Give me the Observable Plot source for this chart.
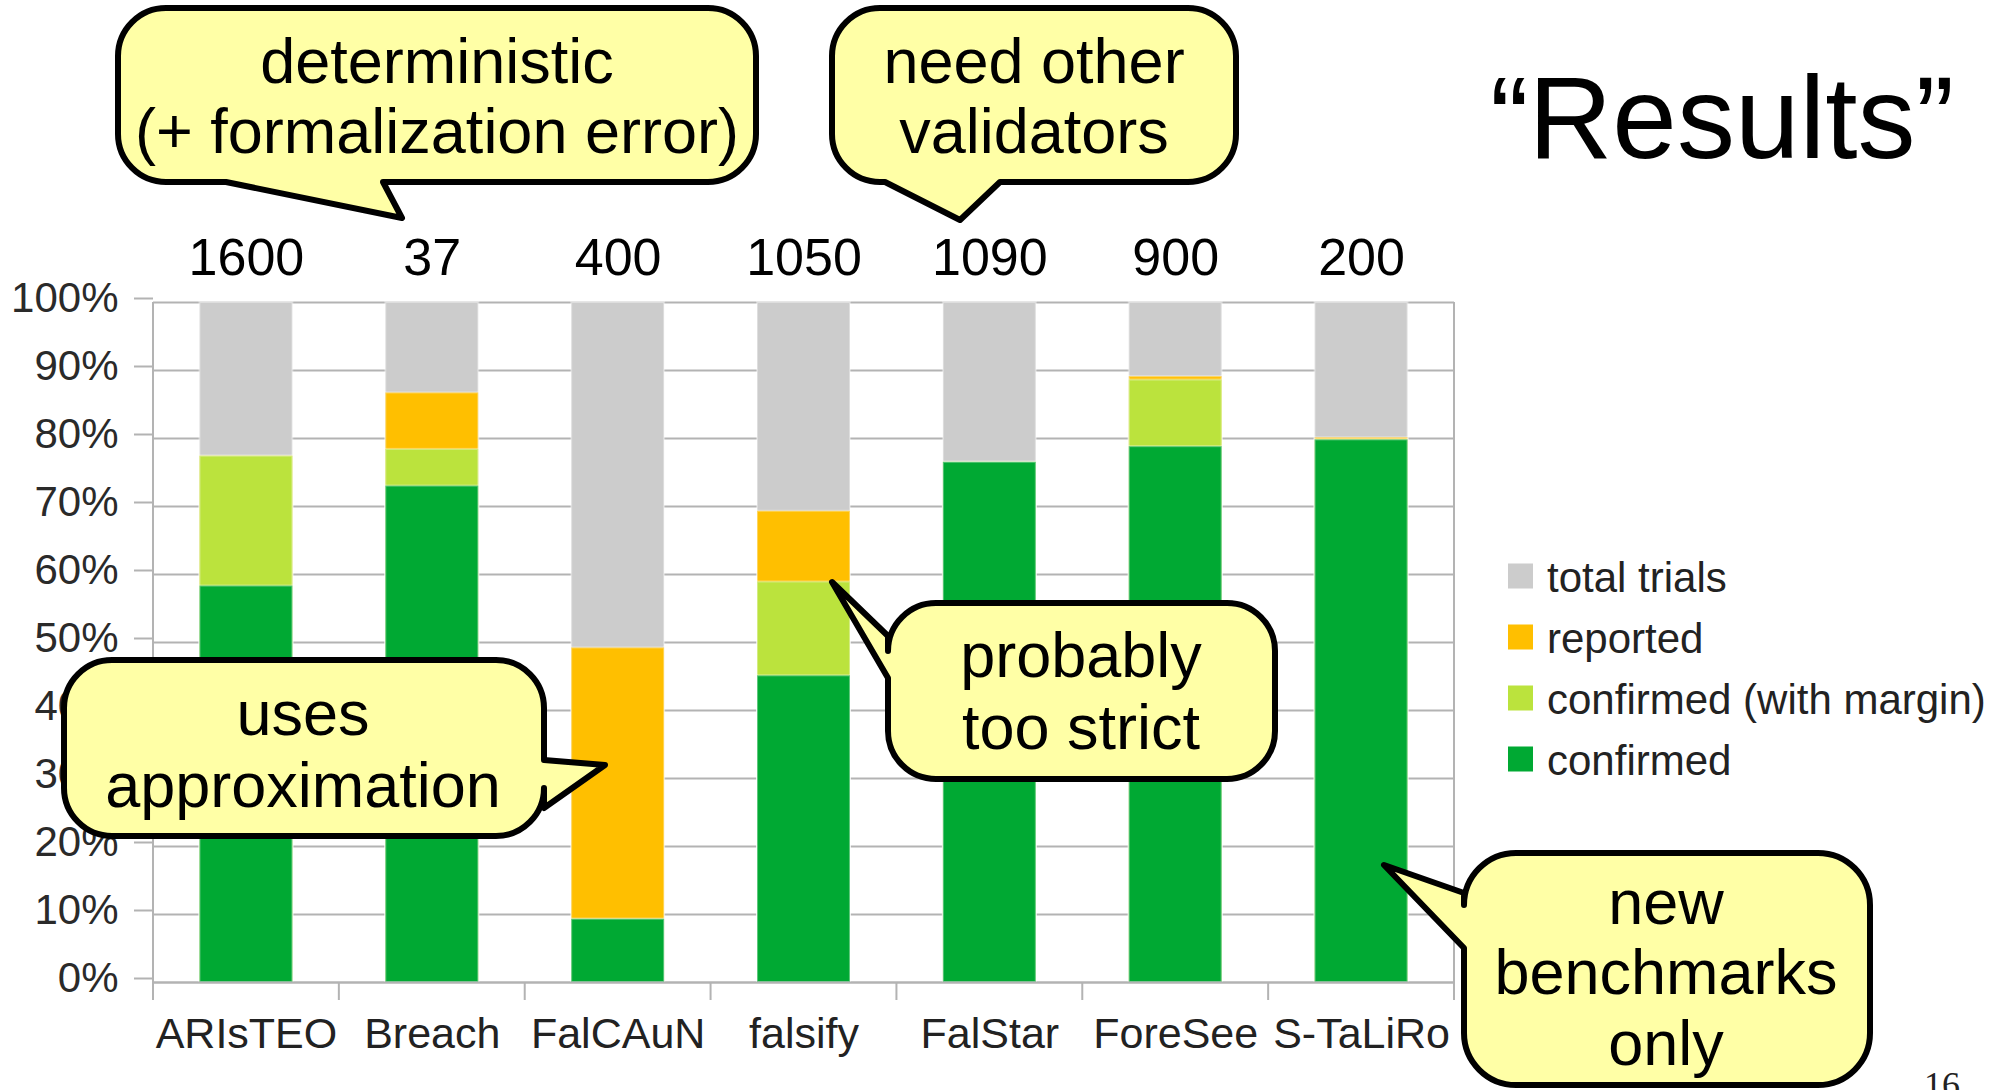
<!DOCTYPE html>
<html><head><meta charset="utf-8">
<script src="https://cdn.jsdelivr.net/npm/d3@7"></script>
<script src="https://cdn.jsdelivr.net/npm/@observablehq/plot@0.6"></script>
<style>
html,body{margin:0;padding:0;background:#fff;overflow:hidden;}
#wrap{position:relative;width:2012px;height:1090px;}
#wrap > svg{position:absolute;left:0;top:0;}
</style></head>
<body><div id="wrap"></div>
<script>
// ---- data ----
const tools = ["ARIsTEO", "Breach", "FalCAuN", "falsify", "FalStar", "ForeSee", "S-TaLiRo"];
const trials = [1600, 37, 400, 1050, 1090, 900, 200];
const seriesNames = ["total trials", "reported", "confirmed (with margin)", "confirmed"];
const totalPct     = [100, 100, 100, 100, 100, 100, 100];
const reportedPct  = [77.4, 86.7, 49.2, 69.3, 76.5, 89.1, 80.1];
const marginPct    = [77.4, 78.4, 9.3, 58.9, 76.5, 88.6, 79.8];
const confirmedPct = [58.3, 73.0, 9.3, 45.1, 76.5, 78.8, 79.8];
const yTicks = [0, 10, 20, 30, 40, 50, 60, 70, 80, 90, 100];
const title = "\u201CResults\u201D";
const pageNumber = "16";
const notes = [
  ["deterministic", "(+ formalization error)"],
  ["need other", "validators"],
  ["uses", "approximation"],
  ["probably", "too strict"],
  ["new", "benchmarks", "only"]
];

// ---- styles / layout ----
const seriesColors = ["#cccccc", "#ffbf00", "#bbe33d", "#00a933"];
const GRID = "#b3b3b3";
const FONT = "'Liberation Sans', Arial, Helvetica, sans-serif";
const series = [totalPct, reportedPct, marginPct, confirmedPct];
const rows = vals => tools.map((t, i) => ({tool: t, value: vals[i]}));

const plot = Plot.plot({
  width: 2012, height: 1090,
  marginLeft: 153, marginRight: 558, marginTop: 302, marginBottom: 108,
  style: {fontFamily: FONT, fontSize: "42px", background: "transparent", color: "#222"},
  x: {domain: tools, paddingInner: 0.5, paddingOuter: 0.25, round: false, axis: null},
  y: {domain: [0, 100], label: null},
  color: {domain: seriesNames, range: seriesColors},
  marks: [
    Plot.gridY(yTicks, {stroke: GRID, strokeOpacity: 1, strokeWidth: 2}),
    Plot.axisY(yTicks, {tickSize: 19, tickPadding: 16, stroke: GRID, strokeWidth: 2,
      tickFormat: d => d + "%", fill: "#2a2a2a", label: null, dy: -4}),
    ...series.map((vals, k) => Plot.barY(rows(vals), {
      x: "tool", y: "value", fill: () => seriesNames[k],
      stroke: "#ffffff", strokeOpacity: 0.35, strokeWidth: 2
    })),
    Plot.ruleY([0], {stroke: GRID, strokeWidth: 2}),
    Plot.text(tools, {x: d => d, y: () => 0, text: d => d, dy: 52, fontSize: 43, fill: "#222"}),
    Plot.text(tools.map((t, i) => ({tool: t, n: trials[i]})),
      {x: "tool", y: () => 100, text: d => String(d.n), dy: -44, fontSize: 52, fill: "#000"})
  ]
});
document.getElementById("wrap").append(plot);

// category boundary ticks & frame sides, from the plot's own scales
const xs = plot.scale("x"), ys = plot.scale("y");
const xb = d3.scaleBand(xs.domain, xs.range)
  .paddingInner(xs.paddingInner).paddingOuter(xs.paddingOuter)
  .align(xs.align ?? 0.5).round(!!xs.round);
const yl = d3.scaleLinear(ys.domain, ys.range);
const step = xb.step(), bw = xb.bandwidth();
const bounds = tools.map(t => xb(t) - (step - bw) / 2)
  .concat([xb(tools[tools.length - 1]) + bw + (step - bw) / 2]);
const y0 = yl(0), y100 = yl(100);
d3.select(plot).append("g")
  .selectAll("line").data(bounds).join("line")
  .attr("x1", d => d).attr("x2", d => d)
  .attr("y1", (d, i) => (i === 0 || i === bounds.length - 1) ? y100 : y0)
  .attr("y2", y0 + 18)
  .attr("stroke", GRID).attr("stroke-width", 2);

// ---- overlay: title, legend, callouts ----
const ov = d3.select("#wrap").append("svg")
  .attr("width", 2012).attr("height", 1090)
  .style("font-family", FONT);

ov.append("text").attr("x", 1722).attr("y", 158).attr("text-anchor", "middle")
  .attr("font-size", 116).attr("fill", "#000").text(title);

const cs = plot.scale("color");
const lg = ov.append("g");
cs.domain.forEach((name, i) => {
  const cy = 576 + i * 61;
  lg.append("rect").attr("x", 1508).attr("y", cy - 12.5).attr("width", 25).attr("height", 25)
    .attr("fill", cs.range[i]);
  lg.append("text").attr("x", 1547).attr("y", cy + 16).attr("font-size", 42)
    .attr("fill", "#222").text(name);
});

function bubblePath({x, y, w, h, r, side, a, b, tip}) {
  const [tx, ty] = tip, x2 = x + w, y2 = y + h;
  let p = `M${x + r},${y}`;
  if (side === "top") p += `L${a},${y}L${tx},${ty}L${b},${y}`;
  p += `L${x2 - r},${y}A${r},${r} 0 0 1 ${x2},${y + r}`;
  if (side === "right") p += `L${x2},${a}L${tx},${ty}L${x2},${b}`;
  p += `L${x2},${y2 - r}A${r},${r} 0 0 1 ${x2 - r},${y2}`;
  if (side === "bottom") p += `L${b},${y2}L${tx},${ty}L${a},${y2}`;
  p += `L${x + r},${y2}A${r},${r} 0 0 1 ${x},${y2 - r}`;
  if (side === "left") p += `L${x},${b}L${tx},${ty}L${x},${a}`;
  p += `L${x},${y + r}A${r},${r} 0 0 1 ${x + r},${y}Z`;
  return p;
}
const bubbles = [
  {x: 118, y: 8, w: 638, h: 174, r: 48, side: "bottom", a: 226, b: 383, tip: [402, 218], cx: 437, base: [83, 153]},
  {x: 832, y: 8, w: 404, h: 174, r: 48, side: "bottom", a: 885, b: 1000, tip: [960, 220], cx: 1034, base: [83, 153]},
  {x: 64, y: 660, w: 480, h: 176, r: 48, side: "right", a: 760, b: 808, tip: [605, 765], cx: 303, base: [735, 807]},
  {x: 888, y: 603, w: 387, h: 176, r: 48, side: "left", a: 636, b: 678, tip: [832, 582], cx: 1081, base: [677, 749]},
  {x: 1464, y: 853, w: 406, h: 232, r: 52, side: "left", a: 893, b: 948, tip: [1384, 865], cx: 1666, base: [924, 994, 1065]}
];
bubbles.forEach((bb, i) => {
  const g = ov.append("g");
  g.append("path").attr("d", bubblePath(bb)).attr("fill", "#ffffa6")
    .attr("stroke", "#000").attr("stroke-width", 6).attr("stroke-linejoin", "round");
  notes[i].forEach((line, j) => {
    g.append("text").attr("x", bb.cx).attr("y", bb.base[j]).attr("text-anchor", "middle")
      .attr("font-size", 63).attr("fill", "#000").text(line);
  });
});

ov.append("text").attr("x", 1942).attr("y", 1097).attr("text-anchor", "middle")
  .attr("font-family", "'Liberation Serif', 'DejaVu Serif', serif")
  .attr("font-size", 36).attr("fill", "#222").text(pageNumber);
</script>
</body></html>
